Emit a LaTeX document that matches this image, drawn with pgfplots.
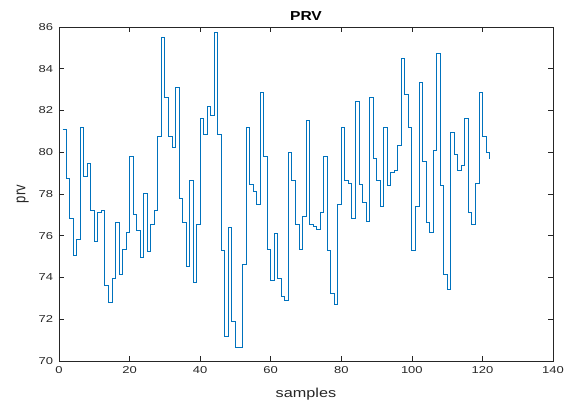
\documentclass[border=0pt]{standalone}
\usepackage{pgfplots}
\pgfplotsset{compat=1.18}
\usepackage{fontspec}
\setmainfont{Liberation Sans}
\definecolor{mlblue}{rgb}{0,0.447,0.741}
\definecolor{mlgray}{rgb}{0.15,0.15,0.15}

\pgfplotstableread{
x y
1 81.10
2 78.73
3 76.82
4 75.08
5 75.84
6 81.19
7 78.85
8 79.47
9 77.20
10 75.75
11 77.12
12 77.20
13 73.61
14 72.79
15 73.96
16 76.64
17 74.15
18 75.37
19 76.15
20 79.79
21 77.04
22 76.24
23 74.98
24 78.02
25 75.27
26 76.53
27 77.22
28 80.76
29 85.49
30 82.65
31 80.76
32 80.22
33 83.11
34 77.81
35 76.63
36 74.52
37 78.64
38 73.78
39 76.55
40 81.62
41 80.86
42 82.20
43 81.75
44 85.73
45 80.86
46 75.28
47 71.17
48 76.42
49 71.92
50 70.65
51 70.65
52 74.61
53 81.19
54 78.45
55 78.11
56 77.50
57 82.89
58 79.80
59 75.35
60 73.88
61 76.13
62 73.98
63 73.08
64 72.89
65 80.00
66 78.64
67 76.55
68 75.37
69 76.91
70 81.54
71 76.53
72 76.45
73 76.32
74 77.12
75 79.80
76 75.28
77 73.24
78 72.71
79 77.52
80 81.19
81 78.64
82 78.53
83 76.82
84 82.43
85 78.45
86 77.62
87 76.71
88 82.65
89 79.69
90 78.64
91 77.41
92 81.19
93 78.43
94 79.04
95 79.15
96 80.31
97 84.51
98 82.77
99 81.19
100 75.28
101 77.41
102 83.37
103 79.56
104 76.64
105 76.15
106 80.10
107 84.75
108 78.43
109 74.15
110 73.45
111 80.95
112 79.90
113 79.15
114 79.36
115 81.62
116 77.12
117 76.55
118 78.53
119 82.89
120 80.76
121 80.00
122 79.70
}\prvdata

\begin{document}
\begin{tikzpicture}
\begin{axis}[
    scale only axis,
    width=494pt, height=334pt,
    xmin=0, xmax=140, ymin=70, ymax=86,
    xtick={0,20,...,140},
    ytick={70,72,...,86},
    tick align=inside,
    major tick length=5pt,
    axis line style={mlgray, line width=0.6pt},
    every tick/.style={mlgray, line width=0.6pt},
    tick label style={font=\fontsize{10}{12}\selectfont, text=mlgray, xscale=1.3},
    /pgf/number format/assume math mode=true,
    xticklabel style={yshift=-2pt},
    yticklabel style={xshift=-1pt},
    title={\textbf{PRV}},
    title style={font=\fontsize{13}{15}\selectfont, xscale=1.2, yshift=-3pt},
    xlabel={samples},
    ylabel={prv},
    xlabel style={font=\fontsize{13}{15}\selectfont, text=mlgray, xscale=1.25, yshift=-8pt},
    ylabel style={font=\fontsize{13}{15}\selectfont, text=mlgray, yscale=1.25, yshift=1pt},
]
\addplot[const plot, color=mlblue, line width=0.8pt] table[x=x, y=y] {\prvdata};
\end{axis}
\pgfresetboundingbox
\useasboundingbox (-59pt,-44pt) rectangle (512pt,361pt);
\end{tikzpicture}
\end{document}
